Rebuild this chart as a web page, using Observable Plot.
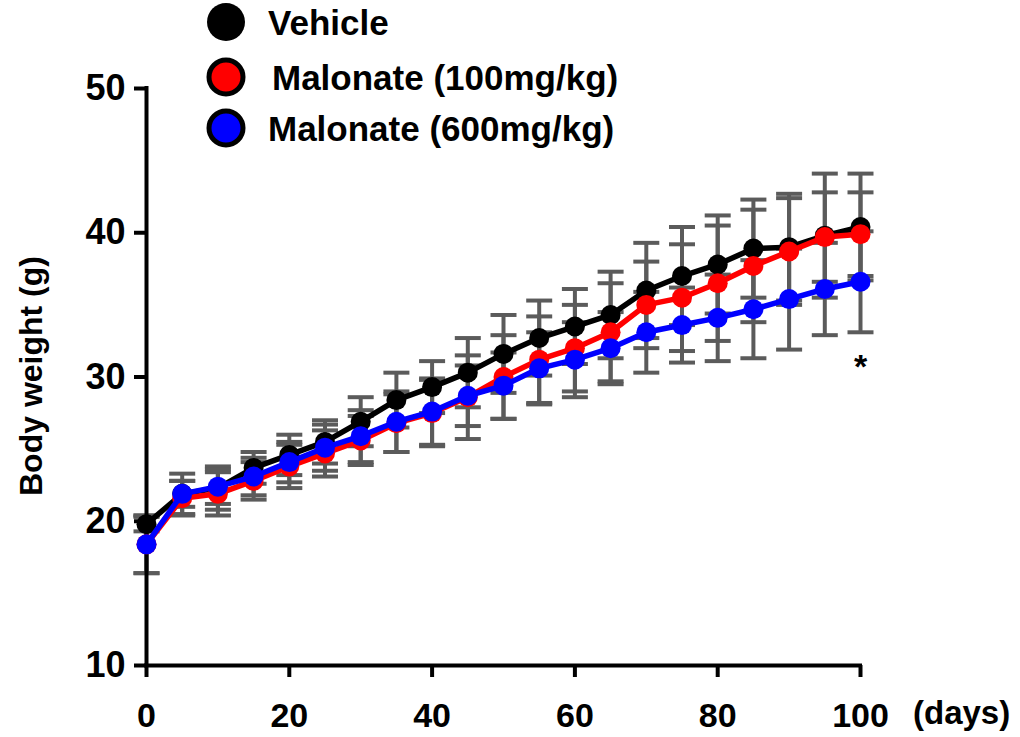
<!DOCTYPE html>
<html><head><meta charset="utf-8">
<script src="https://cdn.jsdelivr.net/npm/d3@7"></script>
<script src="https://cdn.jsdelivr.net/npm/@observablehq/plot@0.6"></script>
<style>
body{margin:0;background:#fff;}
#wrap{position:relative;width:1020px;height:737px;overflow:hidden;}
#wrap svg{position:absolute;left:0;top:0;}
</style></head><body><div id="wrap"></div>
<script>
// ---- data ----
const days = [0,5,10,15,20,25,30,35,40,45,50,55,60,65,70,75,80,85,90,95,100];
const vehicle   = [19.8,21.9,22.3,23.7,24.6,25.5,26.9,28.4,29.3,30.3,31.6,32.7,33.5,34.3,36.0,37.0,37.8,38.9,39.0,39.8,40.4];
const vehicleSD = [0.5,1.4,1.5,1.1,1.4,1.5,1.7,1.9,1.8,2.4,2.7,2.6,2.6,3.0,3.3,3.4,3.4,3.4,3.7,4.3,3.7];
const mal100    = [18.4,21.6,21.9,22.8,23.8,24.7,25.6,26.8,27.5,28.6,30.0,31.2,32.0,33.1,35.0,35.5,36.5,37.7,38.7,39.7,39.9];
const mal100SD  = [2.0,1.2,1.5,1.3,1.5,1.6,1.7,2.0,2.3,2.9,2.9,3.0,3.0,3.4,3.0,3.7,4.0,3.9,3.7,3.1,2.9];
const mal600    = [18.4,21.9,22.4,23.1,24.1,25.1,25.9,26.9,27.6,28.7,29.4,30.6,31.2,32.0,33.1,33.6,34.1,34.7,35.4,36.1,36.6];
const mal600SD  = [2.0,0.9,1.2,1.3,1.4,1.6,1.8,2.1,2.3,2.1,2.3,2.5,2.6,2.5,2.8,2.6,3.0,3.4,3.5,3.2,3.5];
const seriesNames  = ["Vehicle","Malonate (100mg/kg)","Malonate (600mg/kg)"];
const seriesColors = ["#000000","#ff0000","#0000ff"];
const xTicks = [0,20,40,60,80,100];
const yTicks = [10,20,30,40,50];
const yLabel = "Body weight (g)";
const xUnit = "(days)";
const annotations = [{day:100, value:30.7, label:"*"}];

// ---- build tables ----
const means = [vehicle, mal100, mal600];
const sds = [vehicleSD, mal100SD, mal600SD];
const rows = [];
means.forEach((m, s) => days.forEach((d, i) => rows.push({
  series: seriesNames[s], day: d, value: m[i], lo: m[i] - sds[s][i], hi: m[i] + sds[s][i]
})));
const caps = rows.flatMap(r => [{day:r.day, v:r.lo}, {day:r.day, v:r.hi}]);

const GREY = "#5b5b5b";
const FONT = '"Liberation Sans", Arial, Helvetica, sans-serif';
const capSymbol = { draw(ctx) { ctx.moveTo(-13, 0); ctx.lineTo(13, 0); } };

const seriesMarks = seriesNames.flatMap((name, s) => {
  const data = rows.filter(r => r.series === name);
  return [
    Plot.line(data, {x:"day", y:"value", stroke: seriesColors[s], strokeWidth: 5.5}),
    Plot.dot(data, {x:"day", y:"value", r: 10, fill: seriesColors[s], stroke: "none"})
  ];
});

const chart = Plot.plot({
  width: 1020, height: 737,
  marginLeft: 146, marginRight: 160, marginTop: 88, marginBottom: 72,
  x: {domain: [0, 100]},
  y: {domain: [10, 50]},
  style: {fontFamily: FONT, fontWeight: "bold", background: "transparent", color: "#000", overflow: "visible"},
  marks: [
    Plot.axisY({ticks: yTicks, tickSize: 12, tickPadding: 9, fontSize: 36, strokeWidth: 4, label: null}),
    Plot.axisX({ticks: xTicks, tickSize: 12, tickPadding: 25, fontSize: 34, strokeWidth: 4, label: null}),
    Plot.ruleX(rows, {x: "day", y1: "lo", y2: "hi", stroke: GREY, strokeWidth: 4}),
    Plot.dot(caps, {x: "day", y: "v", symbol: capSymbol, stroke: GREY, strokeWidth: 4, fill: "none"}),
    Plot.ruleX([0], {y1: 10, y2: 50, strokeWidth: 4, strokeLinecap: "square"}),
    Plot.ruleY([10], {x1: 0, x2: 100, strokeWidth: 4, strokeLinecap: "square"}),
    ...seriesMarks,
    Plot.text(annotations, {x: "day", y: "value", text: "label", fontSize: 34, fontWeight: "bold"})
  ]
});
const wrap = document.getElementById("wrap");
wrap.appendChild(chart);

// ---- legend and axis titles (outside the plot frame) ----
const ns = "http://www.w3.org/2000/svg";
const leg = document.createElementNS(ns, "svg");
leg.setAttribute("width", 1020); leg.setAttribute("height", 737);
leg.style.fontFamily = FONT;
const legRows = [
  {cy: 22, tx: 268, outline: false},
  {cy: 77, tx: 272, outline: true},
  {cy: 128, tx: 268, outline: true}
];
seriesNames.forEach((name, i) => {
  const c = document.createElementNS(ns, "circle");
  c.setAttribute("cx", 226); c.setAttribute("cy", legRows[i].cy);
  c.setAttribute("r", legRows[i].outline ? 17 : 19);
  c.setAttribute("fill", seriesColors[i]);
  if (legRows[i].outline) { c.setAttribute("stroke", "#000"); c.setAttribute("stroke-width", 5); }
  leg.appendChild(c);
  const t = document.createElementNS(ns, "text");
  t.setAttribute("x", legRows[i].tx); t.setAttribute("y", legRows[i].cy + 12.5);
  t.setAttribute("font-size", 35); t.setAttribute("font-weight", "bold");
  t.textContent = name;
  leg.appendChild(t);
});
const u = document.createElementNS(ns, "text");
u.setAttribute("x", 913); u.setAttribute("y", 724);
u.setAttribute("font-size", 33); u.setAttribute("font-weight", "bold");
u.textContent = xUnit;
leg.appendChild(u);
const yl = document.createElementNS(ns, "text");
yl.setAttribute("transform", "translate(42,376) rotate(-90)");
yl.setAttribute("text-anchor", "middle");
yl.setAttribute("font-size", 32); yl.setAttribute("font-weight", "bold");
yl.textContent = yLabel;
leg.appendChild(yl);
wrap.appendChild(leg);
</script></body></html>
